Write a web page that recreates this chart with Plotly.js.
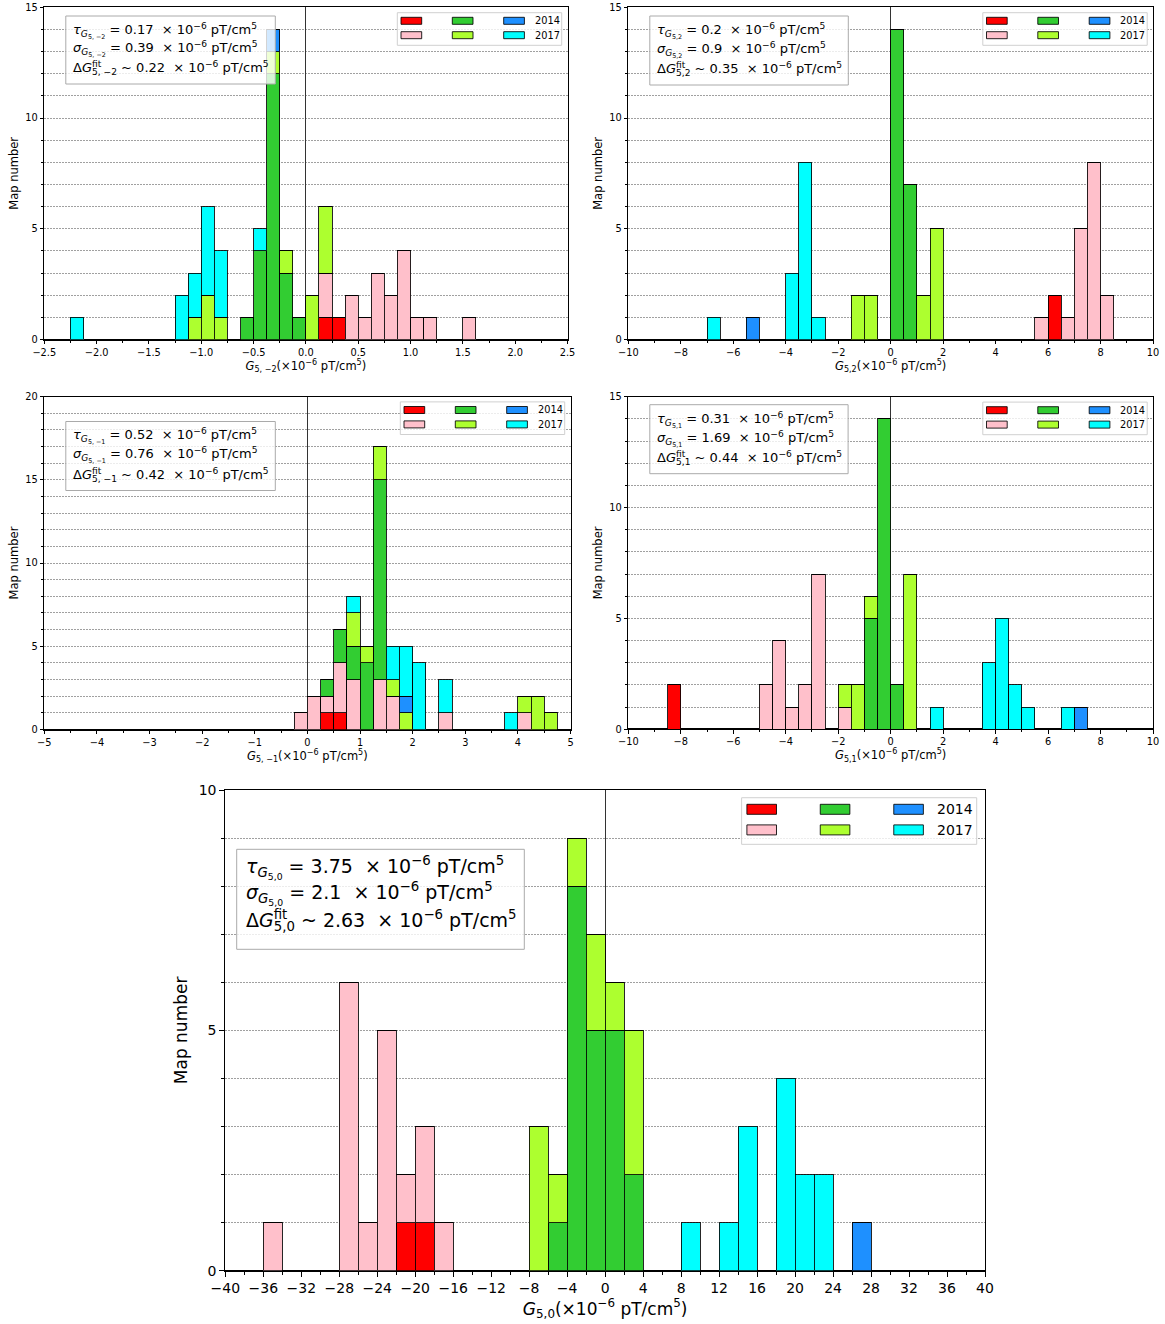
<!DOCTYPE html>
<html><head><meta charset="utf-8">
<script src="https://cdn.plot.ly/plotly-3.0.1.min.js"></script>
<style>html,body{margin:0;padding:0;background:#fff}#chart{width:1165px;height:1324px}</style>
</head><body><div id="chart"></div>
<script>
// ---------- DATA (bin left edges and counts per series) ----------
const seriesNames  = ['', '', '', '', '2014', '2017'];
const seriesColors = ['#ff0000', '#ffc0cb', '#32cd32', '#adff2f', '#1e90ff', '#00ffff'];

// G5,-2  (bin width 0.125)
const g5m2Bins  = [-2.25,-1.25,-1.125,-1.0,-0.875,-0.625,-0.5,-0.375,-0.25,-0.125,0,0.125,0.25,0.375,0.5,0.625,0.75,0.875,1.0,1.125,1.5];
const g5m2Red   = [0,0,0,0,0,0,0,0,0,0,0,1,1,0,0,0,0,0,0,0,0];
const g5m2Pink  = [0,0,0,0,0,0,0,0,0,0,0,2,0,2,1,3,2,4,1,1,1];
const g5m2Green = [0,0,0,0,0,1,4,12,3,1,0,0,0,0,0,0,0,0,0,0,0];
const g5m2Yg    = [0,0,1,2,1,0,0,1,1,0,2,3,0,0,0,0,0,0,0,0,0];
const g5m2Blue  = [0,0,0,0,0,0,0,1,0,0,0,0,0,0,0,0,0,0,0,0,0];
const g5m2Cyan  = [1,2,2,4,3,0,1,0,0,0,0,0,0,0,0,0,0,0,0,0,0];

// G5,2  (bin width 0.5)
const g52Bins  = [-7.0,-5.5,-4.0,-3.5,-3.0,-1.5,-1.0,0,0.5,1.0,1.5,5.5,6.0,6.5,7.0,7.5,8.0];
const g52Red   = [0,0,0,0,0,0,0,0,0,0,0,0,2,0,0,0,0];
const g52Pink  = [0,0,0,0,0,0,0,0,0,0,0,1,0,1,5,8,2];
const g52Green = [0,0,0,0,0,0,0,14,7,0,0,0,0,0,0,0,0];
const g52Yg    = [0,0,0,0,0,2,2,0,0,2,5,0,0,0,0,0,0];
const g52Blue  = [0,1,0,0,0,0,0,0,0,0,0,0,0,0,0,0,0];
const g52Cyan  = [1,0,3,8,1,0,0,0,0,0,0,0,0,0,0,0,0];

// G5,-1  (bin width 0.25)
const g5m1Bins  = [-0.25,0,0.25,0.5,0.75,1.0,1.25,1.5,1.75,2.0,2.5,3.75,4.0,4.25,4.5];
const g5m1Red   = [0,0,1,1,0,0,0,0,0,0,0,0,0,0,0];
const g5m1Pink  = [1,2,1,3,3,0,3,2,0,0,1,0,1,0,0];
const g5m1Green = [0,0,1,2,2,4,12,0,0,0,0,0,0,0,0];
const g5m1Yg    = [0,0,0,0,2,1,2,1,1,0,0,0,1,2,1];
const g5m1Blue  = [0,0,0,0,0,0,0,0,1,0,0,0,0,0,0];
const g5m1Cyan  = [0,0,0,0,1,0,0,2,3,4,2,1,0,0,0];

// G5,1  (bin width 0.5)
const g51Bins  = [-8.5,-5.0,-4.5,-4.0,-3.5,-3.0,-2.0,-1.5,-1.0,-0.5,0,0.5,1.5,3.5,4.0,4.5,5.0,6.5,7.0];
const g51Red   = [2,0,0,0,0,0,0,0,0,0,0,0,0,0,0,0,0,0,0];
const g51Pink  = [0,2,4,1,2,7,1,0,0,0,0,0,0,0,0,0,0,0,0];
const g51Green = [0,0,0,0,0,0,0,0,5,14,2,0,0,0,0,0,0,0,0];
const g51Yg    = [0,0,0,0,0,0,1,2,1,0,0,7,0,0,0,0,0,0,0];
const g51Blue  = [0,0,0,0,0,0,0,0,0,0,0,0,0,0,0,0,0,0,1];
const g51Cyan  = [0,0,0,0,0,0,0,0,0,0,0,0,1,3,5,2,1,1,0];

// G5,0  (bin width 2)
const g50Bins  = [-36,-28,-26,-24,-22,-20,-18,-8,-6,-4,-2,0,2,8,12,14,18,20,22,26];
const g50Red   = [0,0,0,0,1,1,0,0,0,0,0,0,0,0,0,0,0,0,0,0];
const g50Pink  = [1,6,1,5,1,2,1,0,0,0,0,0,0,0,0,0,0,0,0,0];
const g50Green = [0,0,0,0,0,0,0,0,1,8,5,5,2,0,0,0,0,0,0,0];
const g50Yg    = [0,0,0,0,0,0,0,3,1,1,2,1,3,0,0,0,0,0,0,0];
const g50Blue  = [0,0,0,0,0,0,0,0,0,0,0,0,0,0,0,0,0,0,0,1];
const g50Cyan  = [0,0,0,0,0,0,0,0,0,0,0,0,0,1,1,3,4,2,2,0];

// text-box values
const statTau   = ['0.17', '0.2', '0.52', '0.31', '3.75'];
const statSigma = ['0.39', '0.9', '0.76', '1.69', '2.1'];
const statFit   = ['0.22', '0.35', '0.42', '0.44', '2.63'];
const coefSub   = ['5, −2', '5,2', '5, −1', '5,1', '5,0'];

// ---------- LAYOUT ----------
const W = 1165, H = 1324;
const FONT = 'DejaVu Sans, Liberation Sans, sans-serif';
const fx = p => p / W, fy = p => 1 - p / H;

const panels = [
  {bins:g5m2Bins, w:0.125, ser:[g5m2Red,g5m2Pink,g5m2Green,g5m2Yg,g5m2Blue,g5m2Cyan],
   xr:[-2.5,2.5], dt:0.5, mdt:0.25, fmt:'.1f', yr:[0,15], L:44.3, R:567.5, T:7.3, B:339.5, s:1,
   box:{dy:8.7, w:209.5, h:68}},
  {bins:g52Bins, w:0.5, ser:[g52Red,g52Pink,g52Green,g52Yg,g52Blue,g52Cyan],
   xr:[-10,10], dt:2, mdt:1, fmt:'', yr:[0,15], L:628.3, R:1153, T:7.3, B:339.5, s:1,
   box:{dy:8.7, w:198.5, h:69}},
  {bins:g5m1Bins, w:0.25, ser:[g5m1Red,g5m1Pink,g5m1Green,g5m1Yg,g5m1Blue,g5m1Cyan],
   xr:[-5,5], dt:1, mdt:0.5, fmt:'', yr:[0,20], L:44.3, R:570.5, T:396.5, B:729.5, s:1,
   box:{dy:25, w:209.5, h:69}},
  {bins:g51Bins, w:0.5, ser:[g51Red,g51Pink,g51Green,g51Yg,g51Blue,g51Cyan],
   xr:[-10,10], dt:2, mdt:1, fmt:'', yr:[0,15], L:628.3, R:1153, T:396.7, B:729.2, s:1,
   box:{dy:8, w:198.3, h:69}},
  {bins:g50Bins, w:2, ser:[g50Red,g50Pink,g50Green,g50Yg,g50Blue,g50Cyan],
   xr:[-40,40], dt:4, mdt:2, fmt:'', yr:[0,10], L:225.3, R:985, T:790, B:1270.7, s:1.42,
   box:{dy:59.3, w:287.6, h:100}, big:true}
];

const data = [];
const layout = {
  width: W, height: H, margin:{l:0,r:0,t:0,b:0},
  paper_bgcolor:'#fff', plot_bgcolor:'#fff',
  barmode:'stack', bargap:0, showlegend:false,
  font:{family:FONT, color:'#000'},
  shapes:[], annotations:[]
};

panels.forEach((p, i) => {
  const n = i + 1, xs = n === 1 ? '' : String(n);
  const s = p.s;
  p.ser.forEach((vals, k) => {
    data.push({
      type:'bar', x:p.bins.map(b => b + p.w/2), y:vals, width:p.w,
      xaxis:'x'+xs, yaxis:'y'+xs, name:seriesNames[k],
      marker:{color:seriesColors[k], line:{color:'rgba(0,0,0,0.85)', width:1}},
      hoverinfo:'skip', showlegend:false
    });
  });
  const tickFont = {family:FONT, size: p.big ? 14 : 9.8, color:'#000'};
  const titleFont = {family:FONT, size: p.big ? 17 : 11.5, color:'#000'};
  layout['xaxis'+xs] = {
    domain:[fx(p.L), fx(p.R)], anchor:'y'+xs, range:p.xr,
    tickmode:'linear', tick0:p.xr[0], dtick:p.dt, tickformat:p.fmt,
    ticks:'outside', ticklen:3.5*s, tickwidth:1, tickcolor:'#000',
    minor:{dtick:p.mdt, tick0:p.xr[0], ticks:'outside', ticklen:2*s, tickcolor:'#000', showgrid:false},
    showgrid:false, showline:true, mirror:true, linecolor:'#000', linewidth:1,
    zeroline:true, zerolinecolor:'#333', zerolinewidth:1,
    tickfont:tickFont,
    title:{text:'<i>G</i><sub>'+coefSub[i]+'</sub>(×10<sup>−6</sup> pT/cm<sup>5</sup>)', font:titleFont, standoff: p.big ? 4 : 2}
  };
  layout['yaxis'+xs] = {
    domain:[fy(p.B), fy(p.T)], anchor:'x'+xs, range:p.yr,
    tickmode:'linear', tick0:0, dtick:5,
    ticks:'outside', ticklen:3.5*s, tickwidth:1, tickcolor:'#000',
    minor:{dtick:1, tick0:0, ticks:'outside', ticklen:2*s, tickcolor:'#000',
           showgrid:true, gridcolor:'#888', griddash:'2px,1px', gridwidth:0.8},
    showgrid:true, gridcolor:'#888', griddash:'2px,1px', gridwidth:0.8,
    showline:true, mirror:true, linecolor:'#000', linewidth:1,
    zeroline:true, zerolinecolor:'#000', zerolinewidth:2,
    tickfont:tickFont,
    title:{text:'Map number', font:titleFont, standoff: p.big ? 6 : 4}
  };

  // ----- stats text box -----
  const bx0 = p.L + (p.big ? 11.4 : 21.5), by0 = p.T + p.box.dy;
  layout.shapes.push({type:'rect', xref:'paper', yref:'paper', layer:'above',
    x0:fx(bx0), x1:fx(bx0 + p.box.w), y0:fy(by0), y1:fy(by0 + p.box.h),
    fillcolor:'rgba(255,255,255,0.8)', line:{color:'#aaa', width:1}});
  const lines = [
    '<i>τ</i><sub><i>G</i><sub>'+coefSub[i]+'</sub></sub> = '+statTau[i]+'  × 10<sup>−6</sup> pT/cm<sup>5</sup>',
    '<i>σ</i><sub><i>G</i><sub>'+coefSub[i]+'</sub></sub> = '+statSigma[i]+'  × 10<sup>−6</sup> pT/cm<sup>5</sup>',
    'Δ<i>G</i><sup>fit</sup><sub>'+coefSub[i]+'</sub> ~ '+statFit[i]+'  × 10<sup>−6</sup> pT/cm<sup>5</sup>'
  ];
  const fr = p.big ? [0.18, 0.445, 0.715] : [0.215, 0.49, 0.77];
  lines.forEach((t, j) => {
    layout.annotations.push({xref:'paper', yref:'paper', x:fx(bx0 + 5*s), y:fy(by0 + p.box.h*fr[j]),
      xanchor:'left', yanchor:'middle', showarrow:false, align:'left', text:t,
      font:{family:FONT, size: p.big ? 19 : 13, color:'#000'}});
  });

  // ----- legend -----
  const R = p.R, T = p.T, ls = p.big ? 1.43 : 1;
  layout.shapes.push({type:'rect', xref:'paper', yref:'paper', layer:'above',
    x0:fx(R-170.2*ls), x1:fx(R-5.8*ls), y0:fy(T+5.4*ls), y1:fy(T+38*ls),
    fillcolor:'rgba(255,255,255,0.8)', line:{color:'#d0d0d0', width:1}});
  const colX = [166.5, 115.2, 63.8];
  const rowY = [10, 24.4];
  // column-major order like the reference legend: red,pink | green,yellowgreen | blue,cyan
  seriesColors.forEach((c, k) => {
    const col = Math.floor(k/2), row = k % 2;
    layout.shapes.push({type:'rect', xref:'paper', yref:'paper', layer:'above',
      x0:fx(R-colX[col]*ls), x1:fx(R-(colX[col]-20.7)*ls),
      y0:fy(T+rowY[row]*ls), y1:fy(T+(rowY[row]+7)*ls),
      fillcolor:c, line:{color:'rgba(0,0,0,0.85)', width:1}});
    if (seriesNames[k]) {
      layout.annotations.push({xref:'paper', yref:'paper', x:fx(R-35*ls), y:fy(T+(rowY[row]+3.5)*ls),
        xanchor:'left', yanchor:'middle', showarrow:false, text:seriesNames[k],
        font:{family:FONT, size: p.big ? 14 : 9.8, color:'#000'}});
    }
  });
});

Plotly.newPlot('chart', data, layout, {staticPlot:true}).then(gd => {
  // stack the "fit" superscript above the subscript, as in ΔG^fit_{5,m}
  gd.querySelectorAll('.annotation-text').forEach(t => {
    const ts = Array.from(t.querySelectorAll('tspan'));
    for (let a = 0; a < ts.length; a++) {
      if (ts[a].textContent === 'fit') {
        const len = ts[a].getComputedTextLength();
        for (let b = a + 1; b < ts.length; b++) {
          if (ts[b].textContent.startsWith('5')) { ts[b].setAttribute('dx', (-len).toFixed(2)); break; }
        }
      }
    }
  });
});
</script></body></html>
